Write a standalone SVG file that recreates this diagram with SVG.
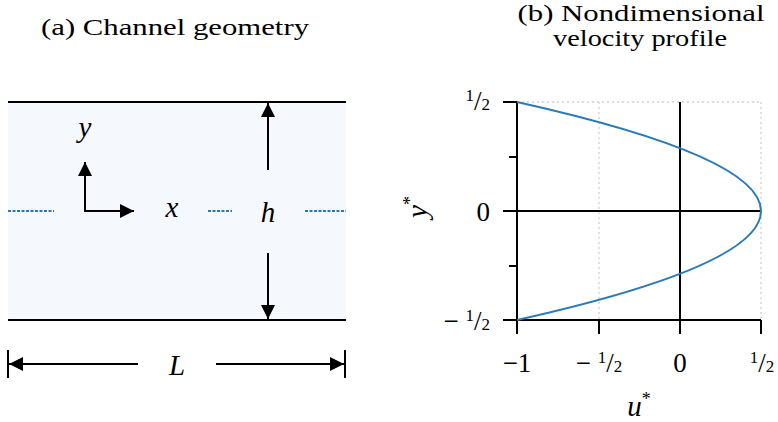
<svg xmlns="http://www.w3.org/2000/svg" width="778" height="422" viewBox="0 0 778 422">
<defs>
<marker id="ah" viewBox="0 0 14 14" refX="14" refY="7" markerWidth="14" markerHeight="14" markerUnits="userSpaceOnUse" orient="auto">
<path d="M0,0 L14,7 L0,14 Z" fill="#000"/>
</marker>
</defs>
<style>
text{font-family:'Liberation Serif','Times New Roman',serif;fill:#000}
.t{font-size:23px}
.m{font-style:italic;font-size:29px}
.n{font-size:27px}
.f{font-size:17px}
.s{font-size:18px;font-style:normal}
.k{stroke:#000;stroke-width:2;fill:none}
.b{stroke:#2a7ab9;stroke-width:2;fill:none}
.g{stroke:#cfcfcf;stroke-width:1.3;stroke-dasharray:2,3;fill:none}
.a{stroke:#000;stroke-width:2;fill:none;marker-end:url(#ah)}
</style>
<rect width="778" height="422" fill="#fff"/>
<g id="title-a"><text class="t" x="175" y="35" text-anchor="middle" textLength="268" lengthAdjust="spacingAndGlyphs">(a) Channel geometry</text></g>
<g id="title-b"><text class="t" x="641" y="21" text-anchor="middle" textLength="247" lengthAdjust="spacingAndGlyphs">(b) Nondimensional</text><text class="t" x="640" y="46" text-anchor="middle" textLength="174" lengthAdjust="spacingAndGlyphs">velocity profile</text></g>
<g id="channel">
<rect x="8" y="102" width="338" height="218" fill="#f5f9fe"/>
<line class="k" x1="8" y1="102" x2="346" y2="102"/>
<line class="k" x1="8" y1="320" x2="346" y2="320"/>
</g>
<g id="centerline">
<path class="b" stroke-width="1.5" stroke-dasharray="3,1.5" d="M8,211 H54 M208,211 H232 M305,211 H346"/>
</g>
<g id="axes-xy">
<path class="a" d="M85,212 V162"/>
<path class="a" d="M84,211 H134"/>
<text class="m" x="85" y="137" text-anchor="middle">y</text>
<text class="m" x="172" y="217" text-anchor="middle">x</text>
</g>
<g id="dim-h">
<path class="a" d="M268,170 V103"/>
<path class="a" d="M268,253 V319"/>
<text class="m" x="268" y="222" text-anchor="middle">h</text>
</g>
<g id="dim-L">
<line class="k" x1="8" y1="350" x2="8" y2="378"/>
<line class="k" x1="345" y1="350" x2="345" y2="378"/>
<path class="a" d="M138,364 H9"/>
<path class="a" d="M216,364 H344"/>
<text class="m" x="177" y="375" text-anchor="middle">L</text>
</g>
<g id="plot">
<path class="g" d="M599,102 V320 M761,102 V320 M517,102 H761"/>
<path class="k" d="M517,102 V334 M503,320 H761 M680,102 V320 M503,211 H761"/>
<path class="k" d="M503,102 H517 M509,157 H517 M509,266 H517 M599,320 V334 M680,320 V334 M761,320 V334"/>
<path class="b" d="M517,102 Q1005,211 517,320"/>
</g>
<g id="labels-y">
<text class="n" x="490" y="110" text-anchor="end"><tspan class="f" dy="-9">1</tspan><tspan dy="9">/</tspan><tspan class="f">2</tspan></text>
<text class="n" x="490" y="221" text-anchor="end">0</text>
<text class="n" x="490" y="330" text-anchor="end">− <tspan class="f" dy="-9">1</tspan><tspan dy="9">/</tspan><tspan class="f">2</tspan></text>
<text class="m" transform="translate(427,207) rotate(-90)" text-anchor="middle">y<tspan class="s" dy="-11">*</tspan></text>
</g>
<g id="labels-x">
<text class="n" x="517" y="372" text-anchor="middle">−1</text>
<text class="n" x="599" y="372" text-anchor="middle">− <tspan class="f" dy="-9">1</tspan><tspan dy="9">/</tspan><tspan class="f">2</tspan></text>
<text class="n" x="680" y="372" text-anchor="middle">0</text>
<text class="n" x="762" y="372" text-anchor="middle"><tspan class="f" dy="-9">1</tspan><tspan dy="9">/</tspan><tspan class="f">2</tspan></text>
<text class="m" x="639" y="416" text-anchor="middle">u<tspan class="s" dy="-11">*</tspan></text>
</g>
</svg>
